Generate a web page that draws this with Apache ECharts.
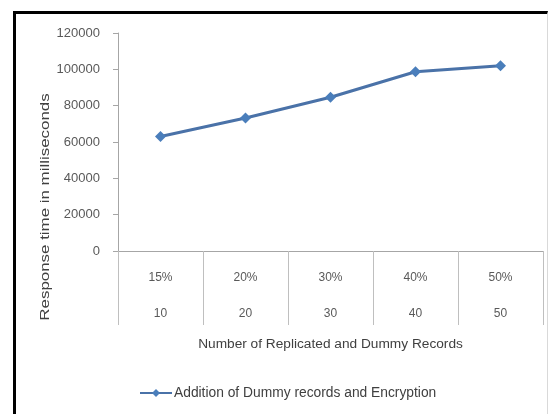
<!DOCTYPE html>
<html>
<head>
<meta charset="utf-8">
<script src="https://cdn.jsdelivr.net/npm/echarts@6/dist/echarts.min.js"></script>
<style>
html,body{margin:0;padding:0;background:#fff;}
#chart{position:absolute;left:0;top:0;width:550px;height:414px;}
#frame{position:absolute;left:13px;top:11px;width:531px;height:410px;border-top:3px solid #000;border-left:3px solid #000;border-right:1px solid #d9d9d9;pointer-events:none;}
</style>
</head>
<body>
<div id="chart"></div>
<div id="frame"></div>
<script>
var percentLabels = ['15%', '20%', '30%', '40%', '50%'];
var recordLabels = ['10', '20', '30', '40', '50'];
var responseTimes = [63000, 73200, 84600, 98700, 102000];
var seriesName = 'Addition of Dummy records and Encryption';
var xTitle = 'Number of Replicated and Dummy Records';
var yTitle = 'Response time in milliseconds';

var FONT = "'Liberation Sans', Arial, sans-serif";
var categories = percentLabels.map(function (p, i) { return p + '\n' + recordLabels[i]; });

var chart = echarts.init(document.getElementById('chart'));
chart.setOption({
  animation: false,
  backgroundColor: '#fff',
  textStyle: { fontFamily: FONT },
  grid: { left: 118, right: 7, top: 33, bottom: 163 },
  xAxis: {
    type: 'category',
    data: categories,
    boundaryGap: true,
    axisLine: { lineStyle: { color: '#a6a6a6', width: 1 } },
    axisTick: { show: true, interval: 0, length: 74, lineStyle: { color: '#bfbfbf' } },
    axisLabel: { interval: 0, color: '#595959', fontSize: 12, fontFamily: FONT, lineHeight: 36, margin: 9 },
    name: xTitle,
    nameLocation: 'middle',
    nameGap: 82,
    nameTextStyle: { color: '#404040', fontSize: 13.7, fontFamily: FONT }
  },
  yAxis: {
    type: 'value',
    min: 0,
    max: 120000,
    interval: 20000,
    splitLine: { show: false },
    axisLine: { show: true, lineStyle: { color: '#a6a6a6' } },
    axisTick: { show: true, length: 5, lineStyle: { color: '#a6a6a6' } },
    axisLabel: { color: '#595959', fontSize: 13, fontFamily: FONT, margin: 18, formatter: function (v) { return String(v); } }
  },
  legend: {
    left: 134,
    top: 381,
    itemWidth: 32,
    itemHeight: 10,
    itemGap: 2,
    textStyle: { color: '#404040', fontSize: 13.8, fontFamily: FONT, padding: [0, 0, 0, -3] },
    data: [seriesName]
  },
  graphic: [{
    type: 'text',
    x: 45,
    y: 207,
    rotation: Math.PI / 2,
    scaleX: 1.3,
    style: {
      text: yTitle,
      fill: '#404040',
      font: '13px ' + FONT,
      textAlign: 'center',
      textVerticalAlign: 'middle'
    }
  }],
  series: [{
    name: seriesName,
    type: 'line',
    data: responseTimes,
    symbol: 'diamond',
    symbolSize: 11,
    lineStyle: { color: '#4a72a8', width: 3 },
    itemStyle: { color: '#4a7ebb' }
  }]
});
</script>
</body>
</html>
